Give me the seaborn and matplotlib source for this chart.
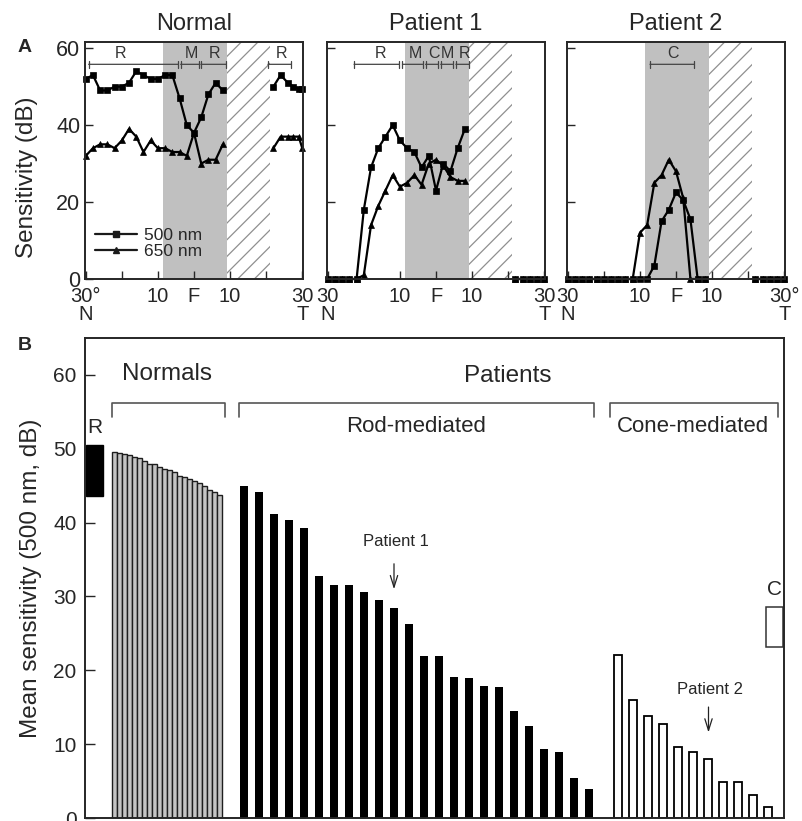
import matplotlib
matplotlib.use("Agg")
import pandas as pd
import matplotlib.pyplot as plt
import seaborn as sns
from matplotlib.lines import Line2D

# ------------------------------------------------------
# Panel A : profils de sensibilite (dB) le long du meridien horizontal
# ------------------------------------------------------
deg_left = [-30, -28, -26, -24, -22, -20, -18, -16, -14, -12,
            -10, -8, -6, -4, -2, 0, 2, 4, 6, 8]
deg_right_normal = [22, 24, 26, 27.5, 29, 30]
deg_right_patient = [22, 24, 26, 28, 30]

normal_500 = [52, 53, 49, 49, 50, 50, 51, 54, 53, 52, 52, 53, 53, 47, 40, 38, 42, 48, 51, 49]
normal_650 = [32, 34, 35, 35, 34, 36, 39, 37, 33, 36, 34, 34, 33, 33, 32, 38, 30, 31, 31, 35]
normal_500_right = [50, 53, 51, 50, 49.5, 49.5]
normal_650_right = [34, 37, 37, 37, 37, 34]

p1_500 = [0, 0, 0, 0, 0, 18, 29, 34, 37, 40, 36, 34, 33, 29, 32, 23, 30, 28, 34, 39]
p1_650 = [0, 0, 0, 0, 0, 1, 14, 19, 23, 27, 24, 25, 27, 24.5, 30, 31, 29.5, 26.5, 25.5, 25.5]
p1_500_right = [0, 0, 0, 0, 0]
p1_650_right = [0, 0, 0, 0, 0]

p2_500 = [0, 0, 0, 0, 0, 0, 0, 0, 0, 0, 0, 0, 3.5, 15, 18, 22.5, 20.5, 15.5, 0, 0]
p2_650 = [0, 0, 0, 0, 0, 0, 0, 0, 0, 0, 12, 14, 25, 27, 31, 28, 21, 0, 0, 0]
p2_500_right = [0, 0, 0, 0, 0]
p2_650_right = [0, 0, 0, 0, 0]

panel_titles = ["Normal", "Patient 1", "Patient 2"]
wavelengths = ["500 nm", "650 nm"]

# ------------------------------------------------------
# Panel B : sensibilite moyenne (500 nm, dB)
# ------------------------------------------------------
normals_mean = [49.5, 49.4, 49.3, 49.1, 48.9, 48.8, 48.4, 48.0, 47.9, 47.5, 47.2,
                47.1, 46.8, 46.3, 46.2, 45.9, 45.6, 45.4, 45.0, 44.4, 44.1, 43.8]
rod_mean = [45.0, 44.1, 41.1, 40.3, 39.3, 32.8, 31.6, 31.5, 30.6, 29.5, 28.4, 26.3,
            22.0, 21.9, 19.1, 19.0, 17.9, 17.7, 14.5, 12.5, 9.3, 8.9, 5.4, 3.9]
cone_mean = [22.1, 16.0, 13.8, 12.7, 9.6, 8.9, 8.0, 4.9, 4.9, 3.1, 1.5]
rod_range = [43.6, 50.5]   # "R"
cone_range = [23.1, 28.6]  # "C"
patient1_idx = 10
patient2_idx = 6


def make_df(deg, v500, v650, seg):
    n = len(deg)
    return pd.DataFrame({
        "deg": list(deg) * 2,
        "sens": list(v500) + list(v650),
        "wave": [wavelengths[0]] * n + [wavelengths[1]] * n,
        "seg": [seg] * (2 * n),
    })


curves = [
    pd.concat([make_df(deg_left, normal_500, normal_650, 0),
               make_df(deg_right_normal, normal_500_right, normal_650_right, 1)]),
    pd.concat([make_df(deg_left, p1_500, p1_650, 0),
               make_df(deg_right_patient, p1_500_right, p1_650_right, 1)]),
    pd.concat([make_df(deg_left, p2_500, p2_650, 0),
               make_df(deg_right_patient, p2_500_right, p2_650_right, 1)]),
]

brackets = [
    [(-29.2, -4.3, "R", -20.3), (-3.7, 1.3, "M", -0.8), (1.9, 8.9, "R", 5.6), (20.5, 27, "R", 24.2)],
    [(-22.7, -10.2, "R", -15.5), (-9.3, -3.7, "M", -5.8), (-2.9, 0.5, "C", -0.5),
     (1.3, 4.6, "M", 3.1), (5.5, 9.2, "R", 7.9)],
    [(-7.2, 5.0, "C", -0.9)],
]

# ------------------------------------------------------
# Style
# ------------------------------------------------------
sns.set_theme(style="ticks")
plt.rcParams["font.family"] = ["Liberation Sans", "DejaVu Sans"]
plt.rcParams["hatch.linewidth"] = 0.9
plt.rcParams["axes.linewidth"] = 1.4

fig = plt.figure(figsize=(8.03, 8.21), dpi=100)

lefts = [85, 327, 567]
for k in range(3):
    ax = fig.add_axes([lefts[k] / 803, 1 - 279 / 821, 218 / 803, 237 / 821])
    ax.axvspan(-8.5, 9.2, color="#c0c0c0", lw=0, zorder=0)
    ax.axvspan(9.2, 21, facecolor="none", hatch="//", edgecolor="#8f8f8f", lw=0, zorder=0)

    sns.lineplot(data=curves[k], x="deg", y="sens", style="wave", units="seg",
                 estimator=None, sort=False, markers={"500 nm": "s", "650 nm": "^"},
                 dashes=False, color="black", lw=1.6, ms=5, mec="black", mew=0.5,
                 legend=False, clip_on=False, ax=ax)

    for a, b, lab, lx in brackets[k]:
        ax.annotate("", xy=(a, 55.8), xytext=(b, 55.8),
                    arrowprops=dict(arrowstyle="|-|, widthA=0.2, widthB=0.2",
                                    color="#444444", lw=0.9, shrinkA=0, shrinkB=0))
        ax.text(lx, 58.7, lab, ha="center", va="center", fontsize=11.5, color="#333333")

    ax.set_xlim(-30.2, 30.2)
    ax.set_ylim(0, 61.6)
    ax.set_xticks([-30, -20, -10, 0, 10, 20, 30])
    left_lab = "30°\nN" if k == 0 else "30\nN"
    right_lab = "30°\nT" if k == 2 else "30\nT"
    ax.set_xticklabels([left_lab, "", "10", "F", "10", "", right_lab], fontsize=14.5,
                       linespacing=0.9)
    ax.set_yticks([0, 20, 40, 60])
    ax.tick_params(direction="in", length=6, width=1)
    ax.tick_params(axis="x", pad=6)
    if k == 0:
        ax.set_yticklabels(["0", "20", "40", "60"], fontsize=15.5)
        ax.set_ylabel("Sensitivity (dB)", fontsize=17.5)
        ax.yaxis.set_label_coords(-0.215, 0.43)
        handles = [Line2D([], [], color="k", marker="s", ms=5, lw=1.6),
                   Line2D([], [], color="k", marker="^", ms=5, lw=1.6)]
        ax.legend(handles, wavelengths, loc="lower left", bbox_to_anchor=(0.0, 0.04),
                  frameon=False, fontsize=12.5, handlelength=2.4, handletextpad=0.4,
                  labelspacing=0.05, borderaxespad=0.2)
    else:
        ax.set_yticklabels([])
        ax.set_ylabel("")
    ax.set_xlabel("")
    ax.set_title(panel_titles[k], fontsize=17, pad=9)

fig.text(25 / 803, 1 - 48 / 821, "A", fontsize=14, fontweight="bold", ha="center", va="center")
fig.text(25 / 803, 1 - 345 / 821, "B", fontsize=14, fontweight="bold", ha="center", va="center")

# ------------------------------------------------------
# Panel B
# ------------------------------------------------------
axb = fig.add_axes([85 / 803, 3 / 821, 699 / 803, 480 / 821])

normals_x = [29.5 + 5 * i for i in range(len(normals_mean))]
rod_x = [159 + 15 * i for i in range(len(rod_mean))]
cone_x = [533.5 + 15 * i for i in range(len(cone_mean))]

sns.barplot(x=normals_x, y=normals_mean, native_scale=True, orient="x", width=1.0,
            color="#c4c4c4", edgecolor="#1e1e1e", linewidth=1.0, saturation=1,
            errorbar=None, ax=axb)
sns.barplot(x=rod_x, y=rod_mean, native_scale=True, orient="x", width=8 / 15,
            color="black", edgecolor="black", linewidth=0, saturation=1,
            errorbar=None, ax=axb)
sns.barplot(x=cone_x, y=cone_mean, native_scale=True, orient="x", width=8 / 15,
            color="white", edgecolor="black", linewidth=1.3, saturation=1,
            errorbar=None, ax=axb)

axb.bar(9.5, rod_range[1] - rod_range[0], bottom=rod_range[0], width=17,
        color="black", edgecolor="black")
axb.bar(689.5, cone_range[1] - cone_range[0], bottom=cone_range[0], width=17,
        color="white", edgecolor="#333333", linewidth=1.1)
axb.text(9.5, rod_range[1] + 2.4, "R", ha="center", va="center", fontsize=15)
axb.text(690, cone_range[1] + 2.4, "C", ha="center", va="center", fontsize=15)

for a, b in [(27, 140), (154, 509), (525, 693)]:
    axb.plot([a, a, b, b], [54.3, 56.2, 56.2, 54.3], color="#555555", lw=1.2)

axb.text(82.5, 60.1, "Normals", ha="center", va="center", fontsize=17.5)
axb.text(423, 59.8, "Patients", ha="center", va="center", fontsize=17.5)
axb.text(331.5, 53.0, "Rod-mediated", ha="center", va="center", fontsize=16)
axb.text(607.5, 53.0, "Cone-mediated", ha="center", va="center", fontsize=16)

p1x = rod_x[patient1_idx]
p2x = cone_x[patient2_idx]
axb.text(p1x + 2, 37.4, "Patient 1", ha="center", va="center", fontsize=12)
axb.annotate("", xy=(p1x, 30.6), xytext=(p1x, 34.8),
             arrowprops=dict(arrowstyle="->, head_length=0.7, head_width=0.22", lw=0.9, color="#222222"))
axb.text(p2x + 1.5, 17.4, "Patient 2", ha="center", va="center", fontsize=12)
axb.annotate("", xy=(p2x, 11.2), xytext=(p2x, 15.4),
             arrowprops=dict(arrowstyle="->, head_length=0.7, head_width=0.22", lw=0.9, color="#222222"))

axb.set_xlim(0, 699)
axb.set_ylim(0, 65)
axb.set_xticks([])
axb.set_yticks([0, 10, 20, 30, 40, 50, 60])
axb.set_yticklabels(["0", "10", "20", "30", "40", "50", "60"], fontsize=15)
axb.tick_params(axis="y", direction="in", length=7, width=1, pad=6)
axb.set_ylabel("Mean sensitivity (500 nm, dB)", fontsize=17.5)
axb.yaxis.set_label_coords(-0.062, 0.5)
axb.set_xlabel("")

fig.savefig("out.png", dpi=100)
